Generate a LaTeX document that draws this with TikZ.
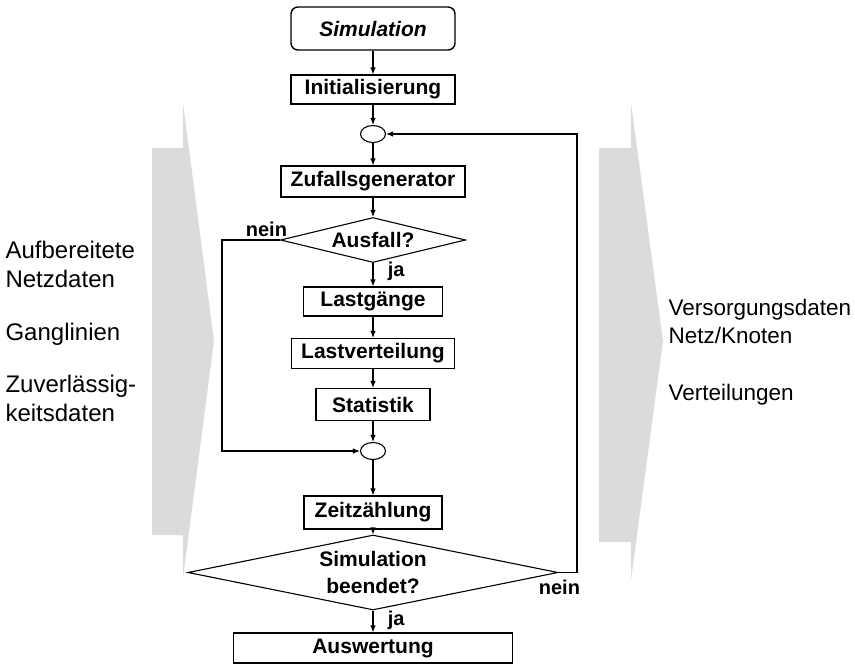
\documentclass[tikz,border=0pt]{standalone}
\usepackage{fontspec}
\setmainfont{Liberation Sans}
\usetikzlibrary{shapes.geometric,arrows.meta}

\begin{document}
\begin{tikzpicture}[x=1pt,y=-1pt,
  line width=1.1pt,
  flow/.style={-{Latex[length=7pt,width=5.5pt]}},
  stepbox/.style={draw, fill=white, inner sep=0pt, font=\fontsize{21}{23}\selectfont\bfseries},
  decision/.style={draw, fill=white, diamond, inner sep=0pt, align=center,
    font=\fontsize{21}{27}\selectfont\bfseries},
  joint/.style={draw, fill=white, ellipse, inner sep=0pt, minimum width=25pt, minimum height=17pt},
  branch/.style={font=\fontsize{20}{22}\selectfont\bfseries},
  datatext/.style={font=\fontsize{24}{29}\selectfont, align=left, inner sep=0pt},
  outtext/.style={datatext, font=\fontsize{22.5}{28}\selectfont},
  bigarrow/.style={fill=black!14, draw=none}
]
\useasboundingbox (0,0) rectangle (855,664);

% broad data-flow arrows
\fill[bigarrow] (152,148) -- (183,148) -- (183,103) -- (214,341) -- (183,578) -- (183,535) -- (152,535) -- cycle;
\fill[bigarrow] (599,148) -- (631,148) -- (631,103) -- (663,341) -- (631,580) -- (631,542) -- (599,542) -- cycle;

% input data (base = last line)
\node[datatext, anchor=base west] (netz) at (5,287) {Aufbereitete\\Netzdaten};
\node[datatext, anchor=base west] (gang) at (5,340) {Ganglinien};
\node[datatext, anchor=base west] (zuv) at (5,421) {Zuverlässig-\\keitsdaten};

% output data
\node[outtext, anchor=base west] (vers) at (668,343) {Versorgungsdaten\\Netz/Knoten};
\node[outtext, anchor=base west] (vert) at (668,400) {Verteilungen};

% flow chart
\node[stepbox, rounded corners=7pt, line width=1.4pt, minimum width=164pt, minimum height=43pt,
      font=\fontsize{21}{23}\selectfont\bfseries\itshape] (sim) at (373,28.5) {Simulation};
\node[stepbox, minimum width=164pt, minimum height=29pt] (init) at (373,89.5) {Initialisierung};
\node[joint] (j1) at (373,134) {};
\node[stepbox, minimum width=184pt, minimum height=31pt] (zufall) at (373,181.5) {Zufallsgenerator};
\node[decision, aspect=4.1, minimum width=185pt, minimum height=45pt] (ausfall) at (373,240) {Ausfall?};
\node[stepbox, minimum width=139pt, minimum height=29pt] (lastg) at (373,301.5) {Lastgänge};
\node[stepbox, minimum width=163pt, minimum height=30pt] (lastv) at (373,353.5) {Lastverteilung};
\node[stepbox, minimum width=114pt, minimum height=32pt] (stat) at (373,404.5) {Statistik};
\node[joint] (j2) at (373,451) {};
\node[stepbox, minimum width=138pt, minimum height=33pt] (zeit) at (373,512.5) {Zeitzählung};
\node[decision, aspect=4.9, minimum width=370pt, minimum height=75pt] (ende) at (373,572.5) {Simulation\\beendet?};
\node[stepbox, minimum width=279pt, minimum height=30pt] (ausw) at (373,648) {Auswertung};

% main path
\draw[flow] (sim) -- (init);
\draw[flow] (init) -- (j1);
\draw[flow] (j1) -- (zufall);
\draw[flow] (zufall) -- (ausfall);
\draw[flow] (ausfall) -- (lastg);
\draw[flow] (lastg) -- (lastv);
\draw[flow] (lastv) -- (stat);
\draw[flow] (stat) -- (j2);
\draw[flow] (j2) -- (zeit);
\draw[flow] (zeit) -- (ende);
\draw[flow] (ende) -- (ausw);

% bypass and loop back
\draw[flow] (ausfall.west) -| (222,451) -- (j2.west);
\draw[flow] (ende.east) -| (577,134) -- (j1.east);

% branch labels
\node[branch, anchor=base west] (nein1) at (242,236) {nein};
\node[branch, anchor=base west] (ja1) at (384,276) {ja};
\node[branch, anchor=base west] (nein2) at (535,594) {nein};
\node[branch, anchor=base west] (ja2) at (384,625) {ja};
\end{tikzpicture}
\end{document}
